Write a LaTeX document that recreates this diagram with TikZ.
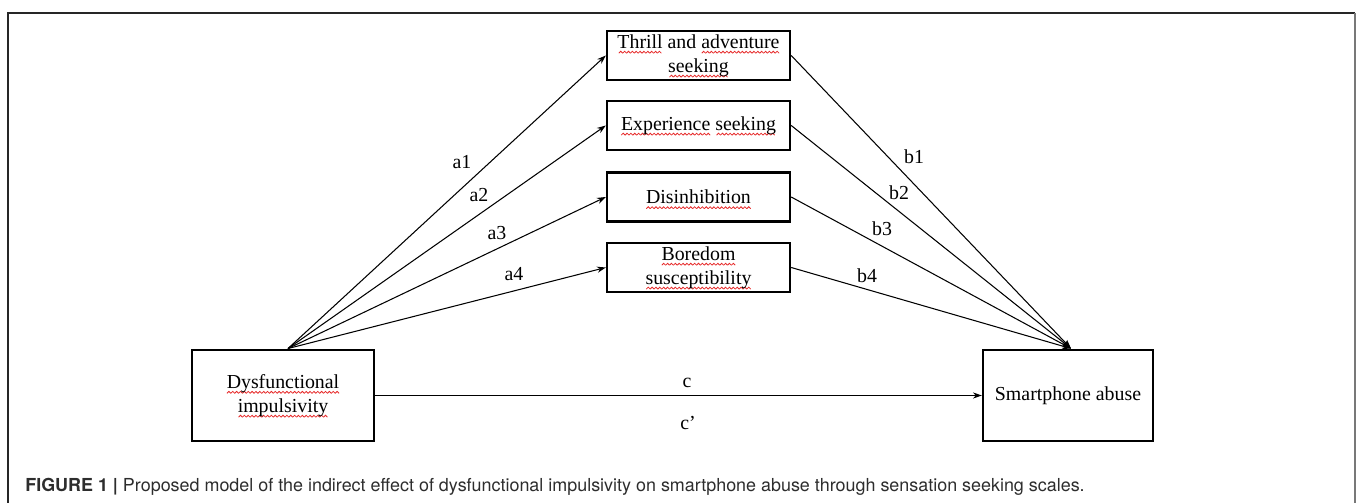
\documentclass[tikz,border=0pt]{standalone}
\usepackage{fontspec}
\setmainfont{Liberation Serif}
\newfontfamily\capfont{TeX Gyre Heros}
\usetikzlibrary{arrows.meta}

\definecolor{spellred}{RGB}{230,40,40}

% red wavy mark under a word
\newsavebox\wavebox
\sbox\wavebox{\tikz{\useasboundingbox (0,0) rectangle (2.2pt,1.1pt);
  \draw[spellred,line width=0.45pt] (0,0) -- (1.1pt,1.1pt) -- (2.2pt,0);}}
\newcommand\spellmark[1]{\setbox0\hbox{#1}\leavevmode
  \rlap{\raisebox{-2.8pt}[0pt][0pt]{\hbox to \wd0{\cleaders\copy\wavebox\hfil}}}\box0\relax}

\begin{document}
\begin{tikzpicture}[x=0.02cm,y=-0.02cm,
    scale box/.style={
      draw=black,
      line width=1.4pt,
      align=center,
      inner sep=0pt,
      font=\fontsize{11.3}{13.6}\selectfont
    },
    path/.style={
      -{Stealth[length=5pt,width=3.5pt]},
      line width=0.6pt
    },
    coef/.style={font=\fontsize{11.3}{13.6}\selectfont}]

\definecolor{framegray}{RGB}{120,120,120}
\definecolor{captext}{RGB}{45,45,45}

\useasboundingbox (0,0) rectangle (1357,503);
\draw[line width=0.7pt,black!85] (8,503) -- (8,13) -- (1355,13);
\draw[line width=1.3pt,framegray] (1355,13) -- (1355,503);

\node[scale box, minimum width=3.66cm, minimum height=0.98cm] (thrill) at (698.5,55.5) {\spellmark{Thrill} and \spellmark{adventure}\\\spellmark{seeking}};
\node[scale box, minimum width=3.66cm, minimum height=0.98cm] (exper) at (698.5,125.5) {\spellmark{Experience} \spellmark{seeking}};
\node[scale box, minimum width=3.66cm, minimum height=0.98cm] (disin) at (698.5,197) {\spellmark{Disinhibition}};
\node[scale box, minimum width=3.66cm, minimum height=0.98cm] (bored) at (698.5,267.5) {\spellmark{Boredom}\\\spellmark{susceptibility}};

\node[scale box, minimum width=3.64cm, minimum height=1.83cm] (dysf) at (283,395.5) {\spellmark{Dysfunctional}\\\spellmark{impulsivity}};
\node[scale box, minimum width=3.4cm, minimum height=1.83cm] (smart) at (1068,395.5) {Smartphone abuse};

\draw[path] ([xshift=0.1cm]dysf.north) -- (thrill.west);
\draw[path] ([xshift=0.1cm]dysf.north) -- (exper.west);
\draw[path] ([xshift=0.1cm]dysf.north) -- (disin.west);
\draw[path] ([xshift=0.1cm]dysf.north) -- (bored.west);

\draw[path] (thrill.east) -- ([xshift=0.06cm]smart.north);
\draw[path] (exper.east) -- ([xshift=0.06cm]smart.north);
\draw[path] (disin.east) -- ([xshift=0.06cm]smart.north);
\draw[path] (bored.east) -- ([xshift=0.06cm]smart.north);

\draw[path] (dysf.east) -- (smart.west);

\node[coef] (a1) at (462,162) {a1};
\node[coef] (a2) at (479,195) {a2};
\node[coef] (a3) at (497,233) {a3};
\node[coef] (a4) at (514,274) {a4};
\node[coef] (b1) at (914,157) {b1};
\node[coef] (b2) at (899,193) {b2};
\node[coef] (b3) at (882,229) {b3};
\node[coef] (b4) at (867,276) {b4};
\node[coef] (c) at (687,383) {c};
\node[coef] (cp) at (688,423) {c’};

\node[anchor=west,text=captext,inner sep=0pt,font=\capfont\fontsize{10.2}{12}\selectfont] (caption) at (25,487) {\textbf{FIGURE 1 |} Proposed model of the indirect effect of dysfunctional impulsivity on smartphone abuse through sensation seeking scales.};

\end{tikzpicture}
\end{document}
